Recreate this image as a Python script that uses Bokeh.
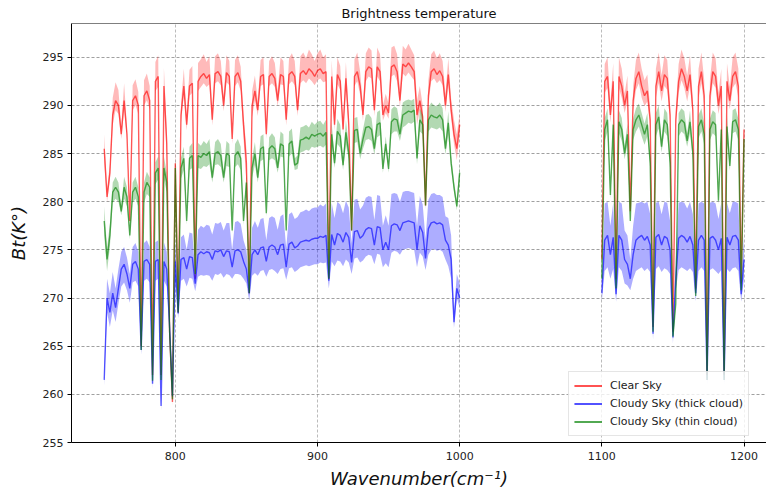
import numpy as np
from bokeh.plotting import figure
from bokeh.models import ColumnDataSource, Range1d, FixedTicker, Legend, LegendItem, Span
from bokeh.embed import file_html
from bokeh.resources import INLINE

# ---------------- data ----------------
wn_a = list(range(750, 1001, 2))   # first window, cm^-1
wn_b = list(range(1100, 1201, 2))  # second window, cm^-1

clear_a = [
    285.5, 280.5, 283.0, 289.0, 290.5, 290.0, 287.0, 290.5, 287.0, 278.0,
    290.5, 291.0, 290.0, 265.0, 291.0, 291.5, 290.5, 262.0, 292.5, 293.0,
    262.0, 292.0, 286.0, 266.5, 259.2, 284.0, 268.5, 289.0, 292.0, 288.0,
    292.0, 292.3, 272.0, 292.5, 293.0, 293.3, 292.8, 293.2, 288.5, 293.3,
    293.5, 293.0, 290.0, 293.4, 293.0, 286.5, 293.0, 293.4, 292.5, 288.0,
    284.0, 270.5, 290.0, 291.5, 289.5, 293.0, 293.2, 287.0, 293.0, 293.3,
    292.8, 290.5, 293.2, 293.0, 288.5, 293.2, 293.5, 293.0, 289.5, 293.3,
    293.6, 293.2, 293.8, 293.5, 293.0, 293.6, 293.8, 293.3, 293.5, 272.0,
    293.0, 288.0, 293.2, 292.5, 287.5, 292.8, 288.0, 277.0, 293.0, 293.5,
    292.0, 289.0, 293.5, 294.0, 293.8, 289.5, 294.0, 293.5, 289.0, 290.0,
    289.2, 294.0, 294.2, 293.5, 290.5, 294.3, 294.0, 294.4, 294.0, 293.5,
    289.0, 290.5, 288.8, 279.6, 291.0, 293.5, 293.8, 293.2, 293.6, 293.0,
    290.0, 293.2, 289.5, 287.0, 285.5, 288.0,
]
clear_up_a = [
    1.5, 0.8, 1.0, 1.8, 1.9, 1.6, 0.8, 1.8, 0.8, 0.6,
    1.6, 1.7, 1.4, 0.6, 1.6, 1.8, 1.5, 0.6, 2.0, 2.2,
    0.6, 1.9, 1.5, 0.6, 0.6, 1.5, 0.6, 1.2, 1.8, 1.0,
    1.7, 1.8, 0.6, 1.9, 1.8, 2.0, 1.7, 1.9, 1.0, 1.8,
    1.9, 1.6, 1.0, 1.8, 1.6, 0.8, 1.7, 1.8, 1.5, 1.0,
    1.5, 0.6, 1.5, 1.6, 1.0, 1.7, 1.8, 0.8, 1.6, 1.8,
    1.6, 1.0, 1.8, 1.6, 1.0, 1.7, 1.9, 1.6, 1.0, 1.8,
    1.9, 1.7, 2.0, 1.8, 1.6, 1.8, 2.0, 1.7, 1.8, 0.6,
    1.7, 1.0, 1.8, 1.6, 1.0, 1.7, 1.0, 0.6, 1.8, 2.0,
    1.5, 1.0, 1.9, 2.0, 1.9, 1.0, 2.0, 1.8, 1.0, 1.2,
    1.0, 2.0, 2.0, 1.8, 1.2, 1.9, 1.8, 2.0, 1.8, 1.7,
    1.5, 1.5, 1.2, 0.6, 1.6, 1.8, 1.9, 1.7, 1.8, 1.6,
    1.2, 1.7, 1.2, 1.5, 1.5, 1.2,
]
clear_dn_a = [
    1.5, 0.5, 0.8, 1.0, 1.0, 0.9, 0.5, 1.0, 0.5, 0.4,
    1.0, 1.0, 0.9, 0.4, 1.0, 1.0, 0.9, 0.4, 1.0, 1.1,
    0.4, 1.0, 1.5, 0.4, 0.4, 2.0, 0.4, 0.8, 1.0, 0.6,
    1.0, 1.0, 0.4, 1.0, 1.1, 1.0, 0.9, 1.0, 0.6, 1.0,
    1.0, 0.9, 0.6, 1.0, 0.9, 0.5, 1.0, 1.0, 1.0, 1.5,
    2.0, 0.4, 1.2, 1.0, 0.6, 1.0, 1.0, 0.5, 1.0, 1.0,
    0.9, 0.6, 1.0, 0.9, 0.6, 1.0, 1.0, 0.9, 0.6, 1.0,
    1.0, 0.9, 1.0, 1.0, 0.9, 1.0, 1.0, 0.9, 1.0, 0.4,
    0.9, 0.6, 1.0, 0.9, 0.6, 1.0, 0.6, 0.4, 1.0, 1.0,
    0.9, 0.6, 1.0, 1.0, 1.0, 0.6, 1.0, 1.0, 0.6, 0.8,
    0.6, 1.0, 1.0, 1.0, 0.7, 1.0, 1.0, 1.0, 1.0, 0.9,
    1.0, 1.0, 0.8, 0.4, 1.0, 1.0, 1.0, 0.9, 1.0, 0.9,
    0.7, 1.0, 0.8, 1.0, 1.2, 1.0,
]

thin_a = [
    278.0, 274.0, 276.5, 281.0, 281.5, 281.0, 279.0, 281.5, 280.5, 276.5,
    281.0, 281.5, 280.5, 264.6, 281.0, 282.0, 281.5, 261.4, 283.0, 283.5,
    261.5, 283.5, 282.0, 266.5, 259.5, 283.5, 268.5, 283.5, 284.5, 278.0,
    284.5, 284.8, 272.5, 284.8, 284.6, 285.0, 284.8, 285.2, 282.5, 285.0,
    285.2, 284.8, 282.5, 285.0, 284.8, 277.0, 284.8, 285.2, 284.5, 278.0,
    282.0, 270.5, 283.5, 285.0, 282.5, 285.5, 285.7, 278.8, 285.5, 285.8,
    285.5, 283.5, 286.0, 285.8, 277.0, 286.0, 286.3, 283.8, 284.0, 286.4,
    286.5, 286.7, 286.5, 287.0, 286.8, 287.0, 287.1, 286.8, 287.2, 272.0,
    287.0, 284.0, 287.3, 286.8, 283.8, 287.2, 285.0, 277.0, 287.4, 287.5,
    285.0, 286.5, 287.7, 287.8, 287.5, 285.5, 288.0, 288.2, 283.4, 286.0,
    283.4, 288.3, 288.6, 288.5, 287.0, 289.0, 289.2, 289.4, 289.3, 289.5,
    284.5, 288.5, 288.0, 279.6, 288.5, 289.0, 288.8, 288.7, 289.0, 288.5,
    285.5, 288.2, 284.0, 281.5, 279.5, 283.0,
]
thin_up_a = [
    1.5, 1.2, 1.2, 1.0, 1.1, 1.0, 0.6, 1.1, 1.0, 0.6,
    1.0, 1.1, 1.0, 0.5, 1.0, 1.1, 1.0, 0.5, 1.1, 1.2,
    0.5, 1.2, 1.0, 0.5, 0.5, 1.1, 0.5, 1.1, 1.2, 0.6,
    1.2, 1.3, 0.5, 1.3, 1.2, 1.3, 1.2, 1.3, 0.7, 1.2,
    1.3, 1.2, 0.7, 1.3, 1.2, 0.5, 1.2, 1.3, 1.2, 0.6,
    0.8, 0.5, 1.0, 1.2, 0.7, 1.3, 1.3, 0.5, 1.2, 1.3,
    1.2, 0.7, 1.3, 1.2, 0.5, 1.3, 1.3, 0.7, 0.8, 1.3,
    1.3, 1.3, 1.2, 1.3, 1.2, 1.3, 1.3, 1.2, 1.3, 0.5,
    1.2, 0.7, 1.3, 1.2, 0.7, 1.3, 0.8, 0.5, 1.3, 1.3,
    0.8, 1.0, 1.3, 1.3, 1.2, 0.8, 1.3, 1.3, 0.6, 0.8,
    0.6, 1.3, 1.3, 1.2, 0.9, 1.3, 1.3, 1.2, 1.2, 1.2,
    0.8, 1.2, 1.0, 0.5, 1.2, 1.3, 1.2, 1.2, 1.3, 1.2,
    0.8, 1.2, 0.8, 0.7, 0.6, 1.0,
]
thin_dn_a = [
    1.5, 1.2, 1.2, 1.1, 1.2, 1.0, 0.4, 1.2, 1.0, 0.4,
    1.1, 1.2, 1.0, 0.3, 1.1, 1.2, 1.0, 0.3, 1.2, 1.2,
    0.3, 1.2, 1.0, 0.3, 0.3, 1.2, 0.3, 1.1, 1.2, 0.4,
    1.2, 1.3, 0.3, 1.3, 1.2, 1.3, 1.2, 1.3, 0.5, 1.2,
    1.3, 1.2, 0.5, 1.3, 1.2, 0.3, 1.2, 1.3, 1.2, 0.4,
    0.6, 0.3, 1.0, 1.2, 0.5, 1.3, 1.3, 0.3, 1.2, 1.3,
    1.2, 0.5, 1.3, 1.2, 0.3, 1.3, 1.3, 0.5, 0.6, 1.3,
    1.3, 1.3, 1.2, 1.3, 1.2, 1.3, 1.3, 1.2, 1.3, 0.3,
    1.2, 0.5, 1.3, 1.2, 0.5, 1.3, 0.6, 0.3, 1.3, 1.3,
    0.6, 1.0, 1.3, 1.3, 1.2, 0.6, 1.3, 1.3, 0.4, 0.6,
    0.4, 1.3, 1.3, 1.2, 0.7, 1.3, 1.3, 1.2, 1.2, 1.2,
    0.6, 1.2, 1.0, 0.3, 1.2, 1.3, 1.2, 1.2, 1.3, 1.2,
    0.6, 1.2, 0.6, 0.5, 0.4, 1.0,
]

thick_a = [
    261.5, 270.0, 268.5, 270.5, 269.0, 271.0, 273.0, 273.5, 272.5, 271.0,
    273.5, 273.8, 273.0, 264.6, 273.8, 274.0, 273.5, 261.1, 273.8, 274.0,
    258.8, 273.8, 273.0, 267.0, 259.8, 273.8, 268.4, 274.0, 274.2, 273.0,
    274.3, 274.2, 271.5, 274.5, 274.8, 274.6, 274.8, 274.7, 274.0, 274.9,
    274.8, 275.0, 274.3, 274.9, 274.8, 273.2, 274.9, 275.0, 274.8, 273.8,
    273.0, 270.5, 274.5, 275.0, 274.5, 275.2, 275.3, 273.8, 275.3, 275.5,
    275.3, 274.5, 275.5, 275.6, 273.2, 275.6, 275.8, 275.2, 275.4, 275.8,
    275.9, 276.0, 275.9, 276.1, 276.2, 276.2, 276.4, 276.3, 276.5, 271.8,
    276.6, 275.5, 276.7, 276.5, 275.8, 276.8, 276.3, 273.7, 276.9, 277.0,
    276.2, 276.5, 277.1, 277.3, 277.2, 275.5, 277.4, 277.3, 275.0, 275.8,
    275.0, 277.5, 277.7, 277.6, 277.0, 277.8, 277.9, 278.0, 277.9, 277.8,
    275.0, 277.5, 276.8, 274.1, 277.2, 277.8, 277.9, 277.7, 277.8, 277.6,
    276.0, 275.5, 274.0, 267.5, 271.0, 270.0,
]
thick_up_a = [
    1.0, 2.0, 2.0, 2.2, 2.0, 2.0, 1.8, 1.8, 1.7, 1.5,
    1.8, 1.9, 1.8, 0.8, 1.9, 2.0, 1.8, 0.8, 2.0, 2.0,
    0.8, 2.0, 1.8, 0.8, 0.8, 2.2, 0.9, 2.3, 2.4, 2.0,
    2.5, 2.5, 1.2, 2.6, 2.7, 2.7, 2.8, 2.8, 2.6, 2.9,
    2.9, 2.9, 2.7, 2.9, 3.0, 1.8, 3.0, 3.0, 2.9, 2.2,
    2.0, 1.2, 2.8, 3.0, 2.8, 3.0, 3.0, 2.2, 3.0, 3.0,
    3.0, 2.6, 3.0, 3.1, 2.0, 3.1, 3.1, 3.0, 3.0, 3.1,
    3.1, 3.2, 3.1, 3.2, 3.2, 3.2, 3.3, 3.2, 3.3, 1.5,
    3.3, 2.8, 3.3, 3.2, 3.0, 3.3, 3.1, 2.0, 3.3, 3.3,
    3.0, 3.1, 3.3, 3.3, 3.3, 2.6, 3.3, 3.3, 2.5, 2.8,
    2.5, 3.3, 3.2, 3.2, 3.0, 3.2, 3.2, 3.1, 3.1, 3.1,
    2.5, 3.1, 2.9, 2.0, 3.0, 3.0, 3.0, 3.0, 2.9, 2.9,
    2.5, 2.8, 2.5, 1.0, 1.5, 1.5,
]
thick_dn_a = [
    0.6, 1.5, 1.5, 1.8, 1.5, 1.6, 1.8, 1.9, 1.7, 1.5,
    1.9, 2.0, 1.8, 0.5, 2.0, 2.0, 1.9, 0.5, 2.0, 2.0,
    0.5, 2.0, 1.8, 0.5, 0.5, 2.1, 0.5, 2.2, 2.2, 1.8,
    2.2, 2.2, 0.8, 2.3, 2.4, 2.3, 2.4, 2.4, 2.2, 2.4,
    2.4, 2.4, 2.2, 2.4, 2.4, 1.2, 2.4, 2.5, 2.4, 1.8,
    1.5, 0.8, 2.2, 2.4, 2.2, 2.4, 2.4, 1.6, 2.4, 2.5,
    2.5, 2.0, 2.5, 2.5, 1.3, 2.5, 2.6, 2.5, 2.5, 2.6,
    2.6, 2.6, 2.6, 2.7, 2.7, 2.7, 2.7, 2.7, 2.8, 0.8,
    2.8, 2.2, 2.8, 2.7, 2.5, 2.8, 2.6, 1.2, 2.8, 2.8,
    2.5, 2.6, 2.8, 2.8, 2.8, 2.0, 2.8, 2.8, 1.8, 2.2,
    1.8, 2.8, 2.8, 2.8, 2.5, 2.8, 2.8, 2.8, 2.8, 2.8,
    1.8, 2.8, 2.5, 1.2, 2.7, 2.8, 2.8, 2.8, 2.8, 2.8,
    2.0, 2.2, 2.0, 0.6, 1.0, 1.0,
]

clear_b = [
    274.0, 292.5, 293.0, 289.0, 292.5, 272.0, 293.0, 292.0, 290.0, 291.5,
    279.0, 290.5, 292.8, 293.5, 292.0, 291.0, 291.5, 288.5, 267.0, 292.0,
    293.5, 291.5, 293.2, 292.8, 289.0, 266.5, 288.5, 292.5, 293.8, 293.0,
    291.5, 293.2, 289.5, 271.0, 292.0, 293.5, 291.0, 262.0, 291.0, 293.5,
    293.0, 290.0, 292.0, 262.0, 292.5, 290.5, 293.0, 293.5, 292.0, 271.5,
    287.5,
]
clear_up_b = [
    0.8, 1.8, 2.0, 1.2, 1.9, 0.6, 2.0, 1.8, 1.2, 1.6,
    0.8, 1.5, 1.9, 2.0, 1.8, 1.6, 1.7, 1.2, 0.6, 1.8,
    2.0, 1.6, 2.0, 1.9, 1.2, 0.6, 1.2, 1.8, 2.0, 1.9,
    1.6, 2.0, 1.2, 0.6, 1.8, 2.0, 1.6, 0.6, 1.6, 2.0,
    1.9, 1.3, 1.8, 0.6, 1.9, 1.4, 2.0, 2.0, 1.8, 0.6,
    1.2,
]
clear_dn_b = [
    0.4, 1.2, 1.2, 0.8, 1.2, 0.4, 1.2, 1.2, 0.8, 1.1,
    0.5, 1.1, 1.2, 1.2, 1.2, 1.1, 1.1, 0.8, 0.4, 1.2,
    1.2, 1.1, 1.2, 1.2, 0.8, 0.4, 0.8, 1.2, 1.2, 1.2,
    1.1, 1.2, 0.8, 0.4, 1.2, 1.2, 1.1, 0.4, 1.1, 1.2,
    1.2, 0.9, 1.2, 0.4, 1.2, 0.9, 1.2, 1.2, 1.2, 0.4,
    0.9,
]

thin_b = [
    272.0, 287.5, 288.5, 280.7, 288.0, 271.0, 288.3, 287.5, 285.0, 287.0,
    278.0, 287.5, 288.5, 289.0, 288.0, 287.0, 288.0, 284.0, 266.5, 288.0,
    288.8, 285.7, 288.5, 288.0, 284.0, 266.0, 269.4, 288.0, 288.5, 288.2,
    286.3, 288.3, 285.0, 270.2, 287.8, 288.5, 287.0, 261.5, 287.5, 288.3,
    288.0, 280.1, 287.5, 261.5, 287.8, 283.7, 288.3, 288.5, 287.5, 270.8,
    286.5,
]
thin_up_b = [
    0.5, 1.2, 1.2, 0.6, 1.2, 0.5, 1.2, 1.2, 0.8, 1.1,
    0.5, 1.1, 1.2, 1.2, 1.2, 1.1, 1.2, 0.8, 0.5, 1.2,
    1.2, 0.8, 1.2, 1.2, 0.8, 0.5, 0.5, 1.2, 1.2, 1.2,
    0.8, 1.2, 0.8, 0.5, 1.2, 1.2, 1.1, 0.5, 1.1, 1.2,
    1.2, 0.6, 1.1, 0.5, 1.2, 0.7, 1.2, 1.2, 1.1, 0.5,
    1.0,
]
thin_dn_b = [
    0.3, 1.2, 1.2, 0.4, 1.2, 0.3, 1.2, 1.2, 0.6, 1.1,
    0.3, 1.1, 1.2, 1.2, 1.2, 1.1, 1.2, 0.6, 0.3, 1.2,
    1.2, 0.6, 1.2, 1.2, 0.6, 0.3, 0.3, 1.2, 1.2, 1.2,
    0.6, 1.2, 0.6, 0.3, 1.2, 1.2, 1.1, 0.3, 1.1, 1.2,
    1.2, 0.4, 1.1, 0.3, 1.2, 0.5, 1.2, 1.2, 1.1, 0.3,
    1.0,
]

thick_b = [
    270.5, 276.0, 276.5, 274.5, 276.3, 270.4, 276.5, 276.0, 274.0, 273.5,
    272.0, 274.5, 276.0, 276.3, 276.5, 276.0, 276.4, 275.5, 266.3, 276.3,
    276.6, 275.5, 276.4, 276.2, 275.0, 265.9, 272.0, 276.2, 276.5, 276.3,
    275.8, 276.4, 275.5, 270.5, 276.0, 276.5, 276.0, 261.5, 276.2, 276.4,
    276.0, 275.0, 276.2, 261.5, 276.3, 275.5, 276.4, 276.5, 276.0, 270.4,
    274.0,
]
thick_up_b = [
    1.5, 3.8, 3.5, 3.0, 3.6, 1.5, 3.5, 3.8, 3.0, 3.0,
    2.0, 3.0, 3.8, 3.6, 3.5, 3.8, 3.6, 3.2, 1.2, 3.6,
    3.4, 3.2, 3.6, 3.7, 3.0, 1.2, 2.0, 3.7, 3.5, 3.6,
    3.5, 3.6, 3.2, 1.5, 3.8, 3.5, 3.8, 1.0, 3.7, 3.6,
    3.8, 3.2, 3.7, 1.0, 3.6, 3.3, 3.6, 3.5, 3.8, 1.5,
    2.5,
]
thick_dn_b = [
    0.8, 3.2, 3.3, 2.5, 3.3, 0.8, 3.3, 3.2, 2.5, 2.2,
    1.2, 2.5, 3.2, 3.3, 3.3, 3.2, 3.3, 2.8, 0.6, 3.3,
    3.3, 2.8, 3.3, 3.3, 2.5, 0.6, 1.2, 3.3, 3.3, 3.3,
    3.0, 3.3, 2.8, 0.8, 3.2, 3.3, 3.2, 0.5, 3.3, 3.3,
    3.2, 2.5, 3.3, 0.5, 3.3, 2.8, 3.3, 3.3, 3.2, 0.8,
    2.0,
]

x_ticks = [800, 900, 1000, 1100, 1200]
y_ticks = [255, 260, 265, 270, 275, 280, 285, 290, 295]

series = [
    ("Clear Sky", "#ff0000", 0.62, 0.27,
     [(wn_a, clear_a, clear_up_a, clear_dn_a), (wn_b, clear_b, clear_up_b, clear_dn_b)]),
    ("Cloudy Sky (thick cloud)", "#0000ff", 0.62, 0.32,
     [(wn_a, thick_a, thick_up_a, thick_dn_a), (wn_b, thick_b, thick_up_b, thick_dn_b)]),
    ("Cloudy Sky (thin cloud)", "#008000", 0.62, 0.30,
     [(wn_a, thin_a, thin_up_a, thin_dn_a), (wn_b, thin_b, thin_up_b, thin_dn_b)]),
]

# ---------------- figure ----------------
p = figure(width=766, height=495, output_backend="svg", toolbar_location=None,
           x_range=Range1d(727, 1215.8), y_range=Range1d(255, 298.5),
           min_border_left=71, min_border_right=0, min_border_top=23,
           min_border_bottom=53, title="Brightness temperature")
p.outline_line_color = None
p.background_fill_color = "white"
p.border_fill_color = "white"

p.title.align = "center"
p.title.text_font = "DejaVu Sans"
p.title.text_font_size = "13px"
p.title.text_font_style = "normal"
p.title.text_color = "#111111"
p.title.standoff = 5

legend_items = []
for name, col, lalpha, falpha, segs in series:
    line_renderers = []
    for xs, mean, up, dn in segs:
        m = np.array(mean)
        src = ColumnDataSource(dict(x=xs, y=m, hi=m + np.array(up), lo=m - np.array(dn)))
        p.varea(x="x", y1="lo", y2="hi", source=src, fill_color=col, fill_alpha=falpha)
        r = p.line(x="x", y="y", source=src, line_color=col, line_alpha=lalpha, line_width=1.4)
        line_renderers.append(r)
    legend_items.append(LegendItem(label=name, renderers=line_renderers))

# axes
for ax in (p.xaxis[0], p.yaxis[0]):
    ax.axis_line_color = "black"
    ax.axis_line_width = 1
    ax.major_tick_in = 0
    ax.major_tick_out = 4
    ax.major_tick_line_color = "black"
    ax.minor_tick_line_color = None
    ax.major_label_text_font = "DejaVu Sans"
    ax.major_label_text_font_size = "11px"
    ax.major_label_text_color = "#222222"
    ax.axis_label_text_font = "DejaVu Sans"
    ax.axis_label_text_font_style = "italic"
    ax.axis_label_text_font_size = "18px"
    ax.axis_label_text_color = "#111111"

p.xaxis.ticker = FixedTicker(ticks=x_ticks)
p.yaxis.ticker = FixedTicker(ticks=y_ticks)
p.xaxis.axis_label = "Wavenumber(cm\u207b\u00b9)"
p.yaxis.axis_label = "Bt(K\u00b0)"
p.xaxis.major_label_standoff = 5
p.xaxis.axis_label_standoff = 5
p.yaxis.major_label_standoff = 4
p.yaxis.axis_label_standoff = 11

# grid
for g in (p.xgrid[0], p.ygrid[0]):
    g.grid_line_color = "#555555"
    g.grid_line_dash = "3 2"
    g.grid_line_width = 0.8
p.ygrid.grid_line_alpha = 0.7
p.xgrid.grid_line_alpha = 0.5

# top spine
p.add_layout(Span(location=298.5, dimension="width", line_color="black", line_width=1.2))

legend = Legend(items=legend_items, location=(497, 6))
legend.label_text_font = "DejaVu Sans"
legend.label_text_font_size = "11px"
legend.label_text_color = "#222222"
legend.glyph_width = 28
legend.glyph_height = 17
legend.label_height = 17
legend.label_standoff = 8
legend.spacing = 1
legend.padding = 5
legend.margin = 0
legend.border_line_color = "#cccccc"
legend.border_line_width = 1
legend.background_fill_color = "white"
legend.background_fill_alpha = 0.8
p.add_layout(legend)

open("out.html", "w").write(file_html(p, INLINE))
